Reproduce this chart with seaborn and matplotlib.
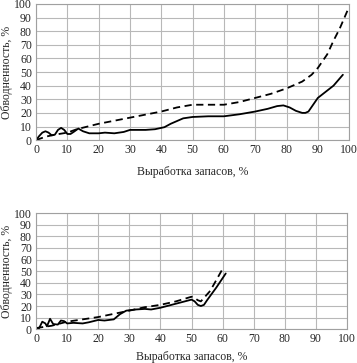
import numpy as np
import pandas as pd
import seaborn as sns
import matplotlib.pyplot as plt

# upper chart: solid (fact) and dashed (model) curves
top_solid_x = [0, 1, 2, 3, 4, 5, 6, 7, 8, 9, 10, 11, 12, 13.5, 15, 17, 20, 22, 25, 28, 30, 35, 38, 41,
               43, 45, 47, 50, 55, 60, 65, 70, 74, 77, 79, 81, 83, 85, 86, 87, 90, 95, 98]
top_solid_y = [0, 3, 5.5, 6.5, 5.5, 3.5, 4, 7.5, 9, 7.5, 4.5, 4.5, 6, 8.5, 6.5, 5, 5, 5.5, 5, 6, 7.5, 7.5, 8, 9.5,
               12, 14, 16, 17, 17.5, 17.5, 19, 21, 23, 25, 25.5, 24, 21.5, 20, 20, 21, 31, 40, 48]
top_dash_x = [0, 3, 6, 10, 13, 20, 30, 40, 45, 50, 55, 60, 65, 70, 75, 80, 85, 88, 90, 93, 95, 97, 100]
top_dash_y = [0, 2.5, 4, 5.5, 8, 12, 16.5, 21, 24, 26, 26, 26, 28, 31, 34, 38, 43, 48, 53, 63, 73, 82, 98]

# lower chart
bot_solid_x = [0, 1, 2, 3, 3.5, 4.5, 5.5, 7, 8, 9, 10, 12, 15, 17, 20, 22, 25, 27, 29, 32, 35, 37, 40,
               45, 50, 51, 52, 53, 54, 55, 58, 61]
bot_solid_y = [0, 1, 6.5, 5, 2.5, 9, 4.5, 4, 7.5, 7, 5, 5.5, 5, 6, 8, 7.5, 8.5, 13, 16, 17, 17.5, 17, 18.5,
               22, 25.5, 24, 21, 20, 21, 25, 36, 48]
bot_dash_x = [0, 5, 10, 20, 30, 35, 40, 45, 50, 51, 52, 53, 56, 60]
bot_dash_y = [1, 3, 6.5, 10.5, 16, 19, 21, 24, 28, 27, 25, 24, 33, 52]

ticks = list(range(0, 101, 10))

sns.set_style('white')
plt.rcParams['font.family'] = ['Liberation Serif', 'DejaVu Serif']

fig = plt.figure(figsize=(3.57, 3.63), dpi=100)
ax1 = fig.add_axes([0.101, 0.614, 0.877, 0.375])
ax2 = fig.add_axes([0.101, 0.093, 0.871, 0.320])


def draw(ax, sx, sy, dx, dy, pad):
    sns.lineplot(x=sx, y=sy, ax=ax, color='black', linewidth=1.3)
    sns.lineplot(x=dx, y=dy, ax=ax, color='black', linewidth=1.3, linestyle=(0, (4, 2.5)))
    ax.set_xlim(0, 100)
    ax.set_ylim(0, 100)
    ax.set_xticks(ticks)
    ax.set_yticks(ticks)
    ax.grid(True, color='#b8b8b8', linewidth=0.8)
    for s in ax.spines.values():
        s.set_color('#a0a0a0')
        s.set_linewidth(0.8)
    ax.tick_params(length=0, labelsize=8.5, pad=3)
    ax.set_xlabel('Выработка запасов, %', fontsize=8.5, labelpad=pad)
    ax.set_ylabel('Обводненность, %', fontsize=8.5, labelpad=1)


draw(ax1, top_solid_x, top_solid_y, top_dash_x, top_dash_y, 7)
draw(ax2, bot_solid_x, bot_solid_y, bot_dash_x, bot_dash_y, 4)

fig.savefig('out.png', dpi=100)
